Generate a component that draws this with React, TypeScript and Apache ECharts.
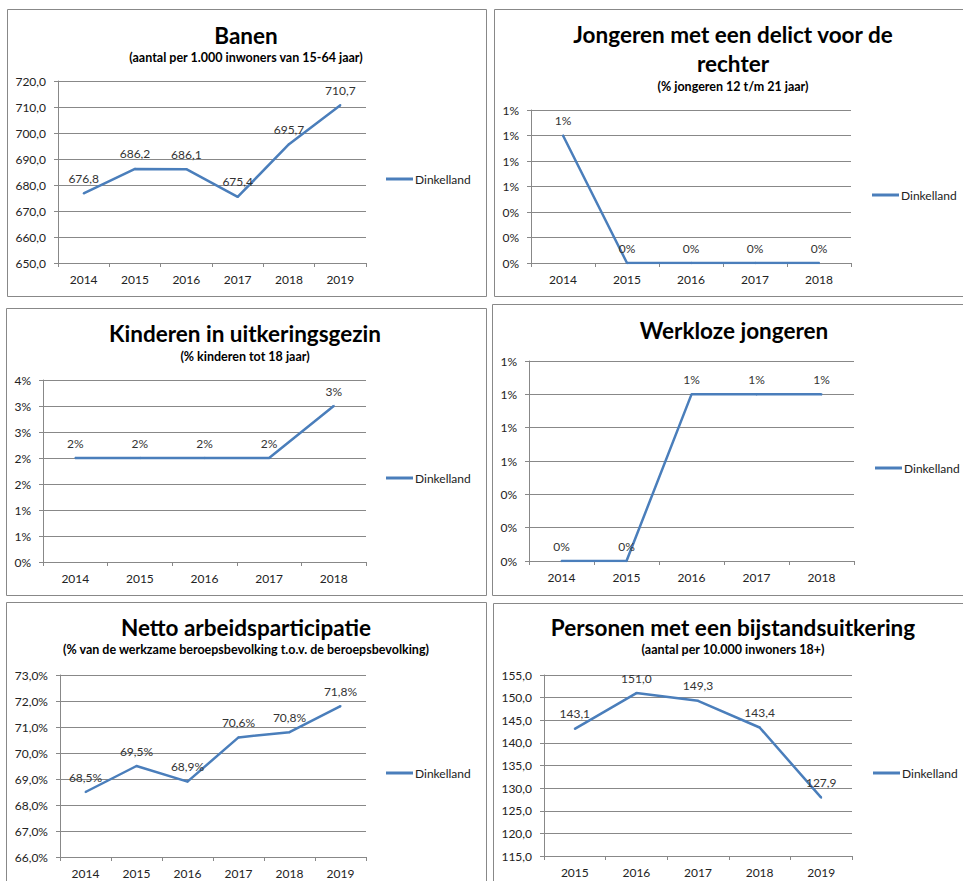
import React, { useEffect, useRef } from "react";
import * as echarts from "echarts";

const yearsA = ["2014", "2015", "2016", "2017", "2018", "2019"];
const yearsB = ["2014", "2015", "2016", "2017", "2018"];
const yearsC = ["2015", "2016", "2017", "2018", "2019"];

const banen = [676.8, 686.2, 686.1, 675.4, 695.7, 710.7];
const delict = [1.0, 0, 0, 0, 0];
const kinderen = [2, 2, 2, 2, 3];
const werkloos = [0, 0, 1, 1, 1];
const netto = [68.5, 69.5, 68.9, 70.6, 70.8, 71.8];
const bijstand = [143.1, 151.0, 149.3, 143.4, 127.9];

const seriesName = "Dinkelland";

const FONT = "Lato, 'Open Sans', sans-serif";
const LINE = "#4A7EBB";
const GRID = "#888888";

const dec1 = (v: number) => v.toFixed(1).replace(".", ",");
const pct0 = (v: number) => Math.round(v) + "%";
const pct1 = (v: number) => v.toFixed(1).replace(".", ",") + "%";

type Panel = {
  box: [number, number, number, number];
  titles: { text: string; x: number; y: number; size: number }[];
  grid: { left: number; top: number; width: number; height: number };
  cats: string[];
  data: number[];
  min: number;
  max: number;
  interval: number;
  fmt: (v: number) => string;
  legend: { left: number; cy: number };
};

const T = 22.5;
const S = 12.5;

const panels: Panel[] = [
  {
    box: [7, 9, 479, 287],
    titles: [
      { text: "Banen", x: 246, y: 35, size: T },
      { text: "(aantal per 1.000 inwoners van 15-64 jaar)", x: 246, y: 57, size: S },
    ],
    grid: { left: 58, top: 81, width: 308, height: 182 },
    cats: yearsA,
    data: banen,
    min: 650,
    max: 720,
    interval: 10,
    fmt: dec1,
    legend: { left: 386, cy: 181 },
  },
  {
    box: [494, 9, 480, 287],
    titles: [
      { text: "Jongeren met een delict voor de", x: 733, y: 34, size: T },
      { text: "rechter", x: 733, y: 63, size: T },
      { text: "(% jongeren 12 t/m 21 jaar)", x: 733, y: 86, size: S },
    ],
    grid: { left: 531, top: 110, width: 320, height: 153 },
    cats: yearsB,
    data: delict,
    min: 0,
    max: 1.2,
    interval: 0.2,
    fmt: pct0,
    legend: { left: 872, cy: 197 },
  },
  {
    box: [6, 308, 480, 287],
    titles: [
      { text: "Kinderen in uitkeringsgezin", x: 245, y: 333, size: T },
      { text: "(% kinderen tot 18 jaar)", x: 245, y: 356, size: S },
    ],
    grid: { left: 43, top: 380, width: 323, height: 182 },
    cats: yearsB,
    data: kinderen,
    min: 0,
    max: 3.5,
    interval: 0.5,
    fmt: pct0,
    legend: { left: 386, cy: 480 },
  },
  {
    box: [492, 304, 490, 291],
    titles: [{ text: "Werkloze jongeren", x: 734, y: 330, size: T }],
    grid: { left: 529, top: 361, width: 325, height: 200 },
    cats: yearsB,
    data: werkloos,
    min: 0,
    max: 1.2,
    interval: 0.2,
    fmt: pct0,
    legend: { left: 875, cy: 470 },
  },
  {
    box: [6, 602, 480, 300],
    titles: [
      { text: "Netto arbeidsparticipatie", x: 246, y: 627, size: T },
      {
        text: "(% van de werkzame beroepsbevolking t.o.v. de beroepsbevolking)",
        x: 246,
        y: 649,
        size: S,
      },
    ],
    grid: { left: 60, top: 675, width: 306, height: 182 },
    cats: yearsA,
    data: netto,
    min: 66,
    max: 73,
    interval: 1,
    fmt: pct1,
    legend: { left: 386, cy: 775 },
  },
  {
    box: [493, 603, 490, 300],
    titles: [
      { text: "Personen met een bijstandsuitkering", x: 733, y: 627, size: T },
      { text: "(aantal per 10.000 inwoners 18+)", x: 733, y: 649, size: S },
    ],
    grid: { left: 544, top: 675, width: 308, height: 181 },
    cats: yearsC,
    data: bijstand,
    min: 115,
    max: 155,
    interval: 5,
    fmt: dec1,
    legend: { left: 873, cy: 775 },
  },
];

export default function App() {
  const ref = useRef<HTMLDivElement>(null);
  useEffect(() => {
    if (!ref.current) return;
    const chart = echarts.init(ref.current, null, { renderer: "svg" });

    const graphic: any[] = [];
    panels.forEach((p) => {
      graphic.push({
        type: "rect",
        shape: { x: p.box[0] + 0.5, y: p.box[1] + 0.5, width: p.box[2], height: p.box[3] },
        style: { fill: "#fff", stroke: GRID, lineWidth: 1 },
        z: -10,
      });
    });
    panels.forEach((p) => {
      p.titles.forEach((t) => {
        graphic.push({
          type: "text",
          x: t.x,
          y: t.y,
          style: {
            text: t.text,
            fill: "#000",
            font: `bold ${t.size}px ${FONT}`,
            align: "center",
            verticalAlign: "middle",
            textAlign: "center",
            textVerticalAlign: "middle",
          },
        });
      });
    });

    const option: any = {
      animation: false,
      backgroundColor: "#fff",
      graphic,
      grid: panels.map((p) => ({ ...p.grid, containLabel: false })),
      legend: panels.map((p) => ({
        data: [seriesName],
        left: p.legend.left,
        top: p.legend.cy - 8,
        padding: 0,
        icon: "rect",
        itemWidth: 27,
        itemHeight: 3,
        itemGap: 0,
        selectedMode: false,
        textStyle: {
          fontFamily: FONT,
          fontSize: 12,
          color: "#222",
          padding: [0, 0, 0, -3],
        },
      })),
      xAxis: panels.map((p, i) => ({
        type: "category",
        gridIndex: i,
        data: p.cats,
        boundaryGap: true,
        axisLine: { show: true, lineStyle: { color: GRID, width: 1 } },
        axisTick: { show: true, length: 4, lineStyle: { color: GRID } },
        axisLabel: { fontFamily: FONT, fontSize: 12, color: "#222", margin: 10 },
        splitLine: { show: false },
      })),
      yAxis: panels.map((p, i) => ({
        type: "value",
        gridIndex: i,
        min: p.min,
        max: p.max,
        interval: p.interval,
        axisLine: { show: true, lineStyle: { color: GRID, width: 1 } },
        axisTick: { show: true, length: 4, lineStyle: { color: GRID } },
        axisLabel: {
          fontFamily: FONT,
          fontSize: 12,
          color: "#222",
          margin: 12,
          formatter: (v: number) => p.fmt(v),
        },
        splitLine: { show: true, lineStyle: { color: GRID, width: 1 } },
      })),
      series: panels.map((p, i) => ({
        name: seriesName,
        type: "line",
        xAxisIndex: i,
        yAxisIndex: i,
        data: p.data,
        symbol: "circle",
        symbolSize: 2,
        itemStyle: { color: LINE },
        lineStyle: { color: LINE, width: 2.5 },
        label: {
          show: true,
          position: "top",
          distance: 8,
          fontFamily: FONT,
          fontSize: 12,
          color: "#333",
          formatter: (d: any) => p.fmt(d.value),
        },
      })),
    };
    chart.setOption(option);
    return () => chart.dispose();
  }, []);
  return (
    <div
      ref={ref}
      style={{ position: "absolute", left: 0, top: 0, width: 963, height: 881, background: "#fff" }}
    />
  );
}
